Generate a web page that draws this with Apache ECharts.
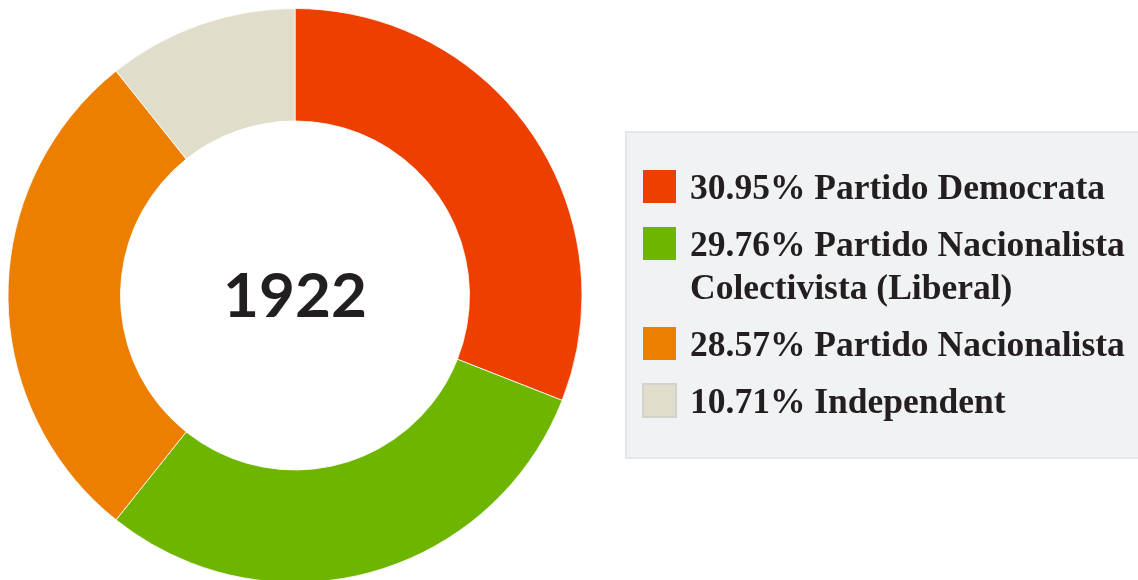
<!DOCTYPE html>
<html>
<head>
<meta charset="utf-8">
<script src="https://cdn.jsdelivr.net/npm/echarts@6/dist/echarts.min.js"></script>
<style>
    html, body { margin: 0; padding: 0; background: #ffffff; }
    #chart { width: 1138px; height: 580px; }
</style>
</head>
<body>
<div id="chart"></div>
<script>
const electionYear = '1922';
const parties = [
    'Partido Democrata',
    'Partido Nacionalista Colectivista (Liberal)',
    'Partido Nacionalista',
    'Independent'
];
const shares = [30.95, 29.76, 28.57, 10.71];
const partyColors = ['#ED4000', '#6EB500', '#ED7F00', '#E0DECB'];

const textColor = '#231F20';
const serifFont = '"Liberation Serif", "DejaVu Serif", serif';

const chart = echarts.init(document.getElementById('chart'));

// legend is drawn by hand: the long party name wraps under its own text,
// with the swatch kept level with the first line
const legendLeft = 626;
const legendTop = 132;
const swatchLeft = 643;
const swatchSize = 33;
const firstSwatchTop = 170;
const itemStep = 57;
const lineHeight = 43;
const wrapWidth = 450;
const lineCounts = [1, 2, 1, 1];

const legendGraphics = [
    {
        type: 'rect',
        shape: { x: legendLeft, y: legendTop, width: 540, height: 326 },
        style: { fill: '#F1F2F4', stroke: '#E6E7EA', lineWidth: 2 },
        silent: true
    }
];

let swatchTop = firstSwatchTop;
parties.forEach((name, i) => {
    const isLight = i === parties.length - 1;
    legendGraphics.push({
        type: 'rect',
        shape: { x: swatchLeft, y: swatchTop, width: swatchSize, height: swatchSize },
        style: {
            fill: partyColors[i],
            stroke: isLight ? '#D2D2CF' : null,
            lineWidth: isLight ? 2 : 0
        },
        silent: true
    });
    legendGraphics.push({
        type: 'text',
        x: swatchLeft + swatchSize + 14,
        y: swatchTop + swatchSize / 2 - lineHeight / 2 + 3,
        style: {
            text: shares[i].toFixed(2) + '% ' + name,
            font: 'bold 35.5px ' + serifFont,
            fill: textColor,
            width: wrapWidth,
            overflow: 'break',
            lineHeight: lineHeight,
            verticalAlign: 'top'
        },
        silent: true
    });
    swatchTop += itemStep + (lineCounts[i] - 1) * lineHeight;
});

legendGraphics.push({
    type: 'text',
    x: 295,
    y: 297,
    style: {
        text: electionYear,
        font: 'bold 62px Lato, "Open Sans", sans-serif',
        fill: textColor,
        align: 'center',
        verticalAlign: 'middle'
    },
    silent: true
});

chart.setOption({
    backgroundColor: '#ffffff',
    animation: false,
    graphic: legendGraphics,
    series: [
        {
            type: 'pie',
            center: [295, 295.5],
            radius: [174.5, 287],
            startAngle: 90,
            clockwise: true,
            avoidLabelOverlap: false,
            label: { show: false },
            labelLine: { show: false },
            emphasis: { disabled: true },
            itemStyle: {
                borderColor: '#ffffff',
                borderWidth: 0.8
            },
            data: parties.map((name, i) => ({
                name: name,
                value: shares[i],
                itemStyle: { color: partyColors[i] }
            }))
        }
    ]
});
</script>
</body>
</html>
